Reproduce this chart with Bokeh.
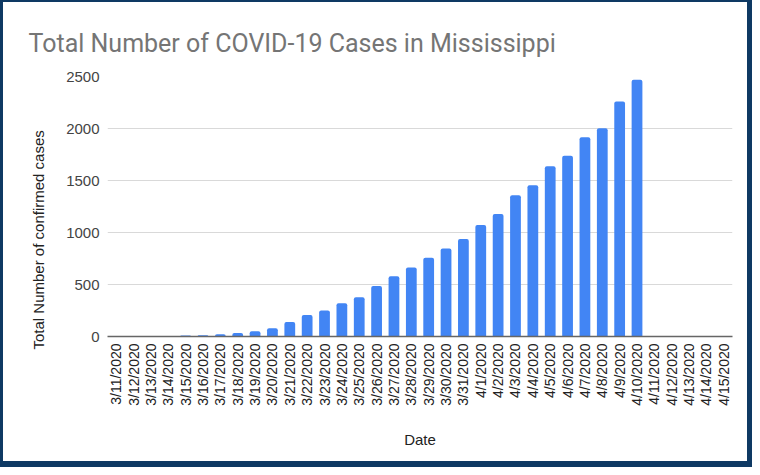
import math
from bokeh.plotting import figure
from bokeh.models import Range1d, FixedTicker, Title, ColumnDataSource
from bokeh.embed import file_html
from bokeh.resources import INLINE

dates = ["3/11/2020", "3/12/2020", "3/13/2020", "3/14/2020", "3/15/2020", "3/16/2020",
         "3/17/2020", "3/18/2020", "3/19/2020", "3/20/2020", "3/21/2020", "3/22/2020",
         "3/23/2020", "3/24/2020", "3/25/2020", "3/26/2020", "3/27/2020", "3/28/2020",
         "3/29/2020", "3/30/2020", "3/31/2020", "4/1/2020", "4/2/2020", "4/3/2020",
         "4/4/2020", "4/5/2020", "4/6/2020", "4/7/2020", "4/8/2020", "4/9/2020",
         "4/10/2020", "4/11/2020", "4/12/2020", "4/13/2020", "4/14/2020", "4/15/2020"]
cases = [0, 0, 0, 0, 10, 13, 21, 34, 50, 80, 140, 207,
         249, 320, 377, 485, 579, 663, 758, 847, 937, 1073, 1177, 1358,
         1455, 1638, 1738, 1915, 2003, 2260, 2469,
         float("nan"), float("nan"), float("nan"), float("nan"), float("nan")]
y_ticks = [0, 500, 1000, 1500, 2000, 2500]

title_text = "Total Number of COVID-19 Cases in Mississippi"
y_label = "Total Number of confirmed cases"
x_label = "Date"

n = len(dates)
xs = [i + 0.5 for i in range(n)]
src = ColumnDataSource(dict(x=xs, top=cases, date=dates))

FONT = "Liberation Sans"

p = figure(width=752, height=467, output_backend="svg", toolbar_location=None,
           x_range=Range1d(0, n), y_range=Range1d(0, 2500),
           min_border_left=104, min_border_right=23, min_border_top=74, min_border_bottom=133,
           title=title_text)
p.styles = {"border-style": "solid", "border-color": "#0e3963",
            "border-width": "2px 5px 6px 3px"}

p.title.text_font = "Roboto"
p.title.text_font_size = "25px"
p.title.text_font_style = "normal"
p.title.text_color = "#757575"
p.title.align = "left"
p.title.offset = -79
p.title.standoff = 37

p.vbar(x="x", top="top", bottom=0, width=0.62, source=src,
       fill_color="#4285f4", line_color=None, border_radius=(2, 2, 0, 0))

p.outline_line_color = None
p.xgrid.grid_line_color = None
p.ygrid.ticker = FixedTicker(ticks=y_ticks)
p.ygrid.grid_line_color = "#d9d9d9"
p.ygrid.grid_line_width = 1

xa = p.xaxis[0]
xa.ticker = FixedTicker(ticks=xs)
xa.major_label_overrides = {x: d for x, d in zip(xs, dates)}
xa.major_label_orientation = math.pi / 2
xa.major_tick_line_color = None
xa.minor_tick_line_color = None
xa.major_tick_out = 0
xa.major_label_standoff = 7
xa.axis_line_color = "#666666"
xa.axis_line_width = 1.3
xa.major_label_text_font = FONT
xa.major_label_text_font_size = "14px"
xa.major_label_text_color = "#222222"
xa.axis_label = x_label
xa.axis_label_text_font = FONT
xa.axis_label_text_font_size = "15px"
xa.axis_label_text_font_style = "normal"
xa.axis_label_text_color = "#222222"
xa.axis_label_standoff = 22

ya = p.yaxis[0]
ya.ticker = FixedTicker(ticks=y_ticks)
ya.axis_line_color = None
ya.major_tick_line_color = None
ya.minor_tick_line_color = None
ya.major_tick_out = 0
ya.major_label_standoff = 8
ya.major_label_text_font = FONT
ya.major_label_text_font_size = "15px"
ya.major_label_text_color = "#444444"

p.add_layout(Title(text=y_label, align="left", offset=-13, standoff=34,
                   text_font=FONT, text_font_size="15px", text_font_style="normal",
                   text_color="#222222"), "left")

open("out.html", "w").write(file_html(p, INLINE))
